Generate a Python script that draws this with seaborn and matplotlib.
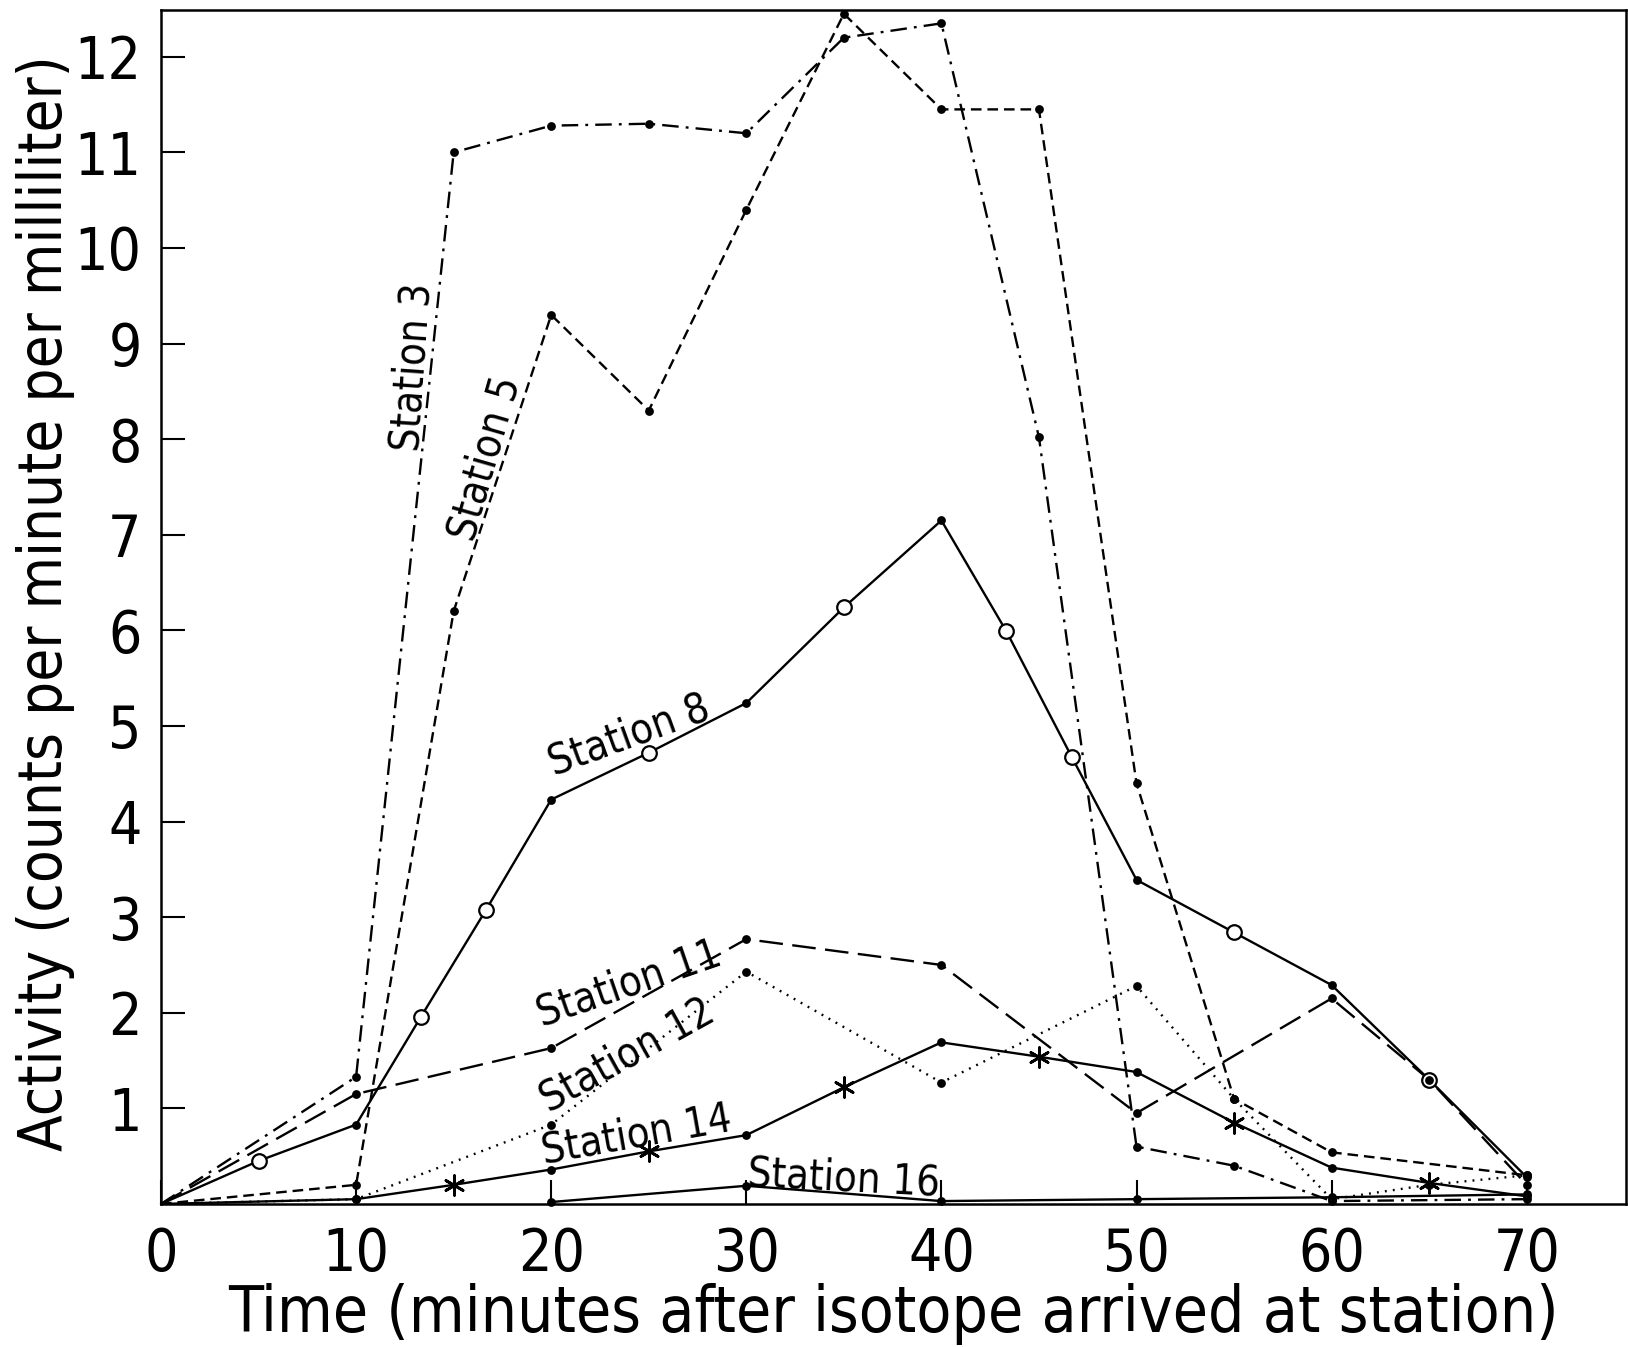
import matplotlib
matplotlib.use("Agg")
import matplotlib.pyplot as plt
import seaborn as sns
import pandas as pd
import numpy as np

# ---------------- data ----------------
s3_x = [0, 10, 15, 20, 25, 30, 35, 40, 45, 50, 55, 60, 70]
s3_y = [0, 1.33, 11.0, 11.28, 11.3, 11.2, 12.2, 12.35, 8.02, 0.6, 0.4, 0.03, 0.05]

s5_x = [0, 10, 15, 20, 25, 30, 35, 40, 45, 50, 55, 60, 70]
s5_y = [0, 0.2, 6.2, 9.3, 8.3, 10.4, 12.45, 11.45, 11.45, 4.4, 1.1, 0.54, 0.3]

s8_x = [0, 5, 10, 13.33, 16.67, 20, 25, 30, 35, 40, 43.33, 46.67, 50, 55, 60, 65, 70]
s8_y = [0, 0.45, 0.83, 1.96, 3.08, 4.23, 4.72, 5.24, 6.24, 7.15, 5.99, 4.68, 3.39, 2.84, 2.29, 1.3, 0.28]
s8_marker = ["none", "open", "dot", "open", "open", "dot", "open", "dot", "open", "dot",
             "open", "open", "dot", "open", "dot", "open", "dot"]

s11_x = [0, 10, 20, 30, 40, 50, 60, 65, 70]
s11_y = [0, 1.15, 1.63, 2.77, 2.5, 0.95, 2.15, 1.3, 0.2]

s12_x = [0, 10, 20, 30, 40, 50, 55, 60, 65, 70]
s12_y = [0, 0.05, 0.83, 2.43, 1.27, 2.28, 1.1, 0.05, 0.2, 0.3]

s14_x = [0, 10, 15, 20, 25, 30, 35, 40, 45, 50, 55, 60, 65, 70]
s14_y = [0, 0.05, 0.2, 0.36, 0.55, 0.72, 1.22, 1.69, 1.54, 1.38, 0.85, 0.38, 0.22, 0.08]
s14_marker = ["none", "dot", "x", "dot", "x", "dot", "x", "dot", "x", "dot", "x", "dot", "x", "dot"]

s16_x = [20, 30, 40, 50, 60, 70]
s16_y = [0.02, 0.19, 0.03, 0.05, 0.07, 0.1]

x_ticks = [0, 10, 20, 30, 40, 50, 60, 70]
y_ticks = [1, 2, 3, 4, 5, 6, 7, 8, 9, 10, 11, 12]

x_label = "Time (minutes after isotope arrived at station)"
y_label = "Activity (counts per minute per milliliter)"

station_names = ["Station 3", "Station 5", "Station 8", "Station 11",
                 "Station 12", "Station 14", "Station 16"]

# ---------------- style ----------------
sns.set_theme(style="white")
plt.rcParams["font.family"] = ["DejaVu Sans"]
plt.rcParams["font.stretch"] = "condensed"
plt.rcParams["font.weight"] = "light"
plt.rcParams["text.color"] = "black"
plt.rcParams["axes.labelcolor"] = "black"

frames = []
for name, xs, ys in zip(station_names,
                        [s3_x, s5_x, s8_x, s11_x, s12_x, s14_x, s16_x],
                        [s3_y, s5_y, s8_y, s11_y, s12_y, s14_y, s16_y]):
    frames.append(pd.DataFrame({"t": xs, "activity": ys, "station": name}))
df = pd.concat(frames, ignore_index=True)

dashes = {
    "Station 3": (7, 3, 1.2, 3),
    "Station 5": (4.5, 2.5),
    "Station 8": "",
    "Station 11": (10, 4),
    "Station 12": (0.8, 2.6),
    "Station 14": "",
    "Station 16": "",
}

fig = plt.figure(figsize=(16.28, 13.47), dpi=100)
ax = fig.add_axes([0.0989, 0.1062, 0.9, 0.8864])

sns.lineplot(data=df, x="t", y="activity", style="station", dashes=dashes,
             color="black", linewidth=1.7, estimator=None, sort=False,
             legend=False, ax=ax)
for ln in ax.lines:
    ln.set_clip_on(False)
    ln.set_dash_capstyle("butt")

# markers
def mk(xs, ys, kinds=None):
    if kinds is None:
        kinds = ["dot"] * len(xs)
    mdf = pd.DataFrame({"t": xs, "activity": ys, "kind": kinds})
    d = mdf[mdf.kind == "dot"]
    o = mdf[mdf.kind == "open"]
    x_ = mdf[mdf.kind == "x"]
    if len(d):
        sns.scatterplot(data=d, x="t", y="activity", ax=ax, color="black", s=40,
                        marker="o", linewidth=0, zorder=5, clip_on=False, legend=False)
    if len(o):
        sns.scatterplot(data=o, x="t", y="activity", ax=ax, facecolor="white",
                        edgecolor="black", s=110, marker="o", linewidth=1.6,
                        zorder=5, clip_on=False, legend=False)
    if len(x_):
        sns.scatterplot(data=x_, x="t", y="activity", ax=ax, color="black", s=200,
                        marker=(6, 2, 0), linewidth=2.0, zorder=5, clip_on=False,
                        legend=False)

mk(s3_x[1:], s3_y[1:])
mk(s5_x[1:], s5_y[1:])
mk(s8_x, s8_y, s8_marker)
mk(s11_x[1:], s11_y[1:])
mk(s12_x[1:], s12_y[1:])
mk(s14_x, s14_y, s14_marker)
mk(s16_x, s16_y)

# station labels
lab_fs = 30
kw = dict(ha="center", va="center", fontsize=lab_fs, color="black")
ax.text(12.9, 8.75, "Station 3", rotation=86, **kw)
ax.text(16.6, 7.8, "Station 5", rotation=74, **kw)
ax.text(24.0, 4.9, "Station 8", rotation=20, **kw)
ax.text(24.0, 2.3, "Station 11", rotation=19, **kw)
ax.text(23.9, 1.55, "Station 12", rotation=29, **kw)
ax.text(24.4, 0.72, "Station 14", rotation=10, **kw)
ax.text(35.0, 0.27, "Station 16", rotation=-3, **kw)

ax.set_xlim(0, 75.1)
ax.set_ylim(0, 12.49)
ax.set_xticks(x_ticks)
ax.set_xticklabels([str(v) for v in x_ticks])
ax.set_yticks(y_ticks)
ax.set_yticklabels([str(v) for v in y_ticks])
ax.tick_params(axis="both", direction="in", length=17, width=1.5, labelsize=42,
               colors="black", bottom=True, left=True)
ax.tick_params(axis="x", pad=16)
ax.tick_params(axis="y", pad=14)
ax.set_xlabel(x_label, fontsize=46, color="black", va="center")
ax.set_ylabel(y_label, fontsize=43, color="black", va="center")
ax.xaxis.set_label_coords(0.5, -0.092)
ax.yaxis.set_label_coords(-0.079, 0.503)
for sp in ax.spines.values():
    sp.set_visible(True)
    sp.set_color("black")
    sp.set_linewidth(1.8)

fig.savefig("out.png", dpi=100, facecolor="white")
